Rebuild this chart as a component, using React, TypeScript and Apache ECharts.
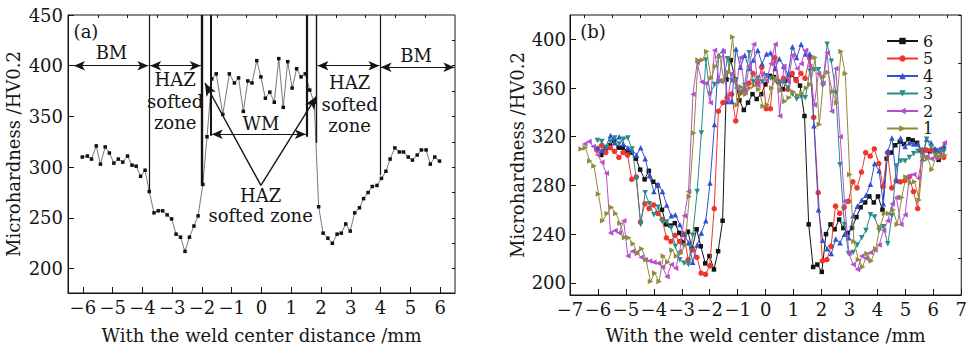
import React, { useEffect, useRef } from 'react';
import * as echarts from 'echarts';

// ---------- Panel (a) data ----------
const aPoints: [number, number][] = [
  [-6.02, 310], [-5.85, 311], [-5.71, 308], [-5.55, 321], [-5.41, 303], [-5.25, 320], [-5.11, 314],
  [-4.96, 304], [-4.81, 308], [-4.66, 305], [-4.5, 311], [-4.35, 302], [-4.21, 301], [-4.06, 291],
  [-3.91, 297], [-3.77, 276], [-3.61, 255], [-3.47, 257], [-3.32, 257], [-3.17, 253], [-3.02, 249],
  [-2.87, 234], [-2.72, 231], [-2.57, 217], [-2.42, 231], [-2.27, 242], [-2.13, 252], [-1.97, 283],
  [-1.83, 330], [-1.67, 387], [-1.52, 392], [-1.3, 352], [-1.08, 392], [-0.91, 383], [-0.77, 388],
  [-0.61, 355], [-0.46, 385], [-0.32, 383], [-0.16, 405], [-0.02, 389], [0.13, 368], [0.28, 374],
  [0.43, 364], [0.58, 407], [0.73, 359], [0.88, 404], [1.03, 378], [1.18, 397], [1.33, 389],
  [1.47, 392], [1.62, 376], [1.77, 364], [1.92, 261], [2.07, 235], [2.23, 230], [2.38, 225],
  [2.54, 234], [2.68, 235], [2.83, 244], [2.98, 237], [3.13, 255], [3.29, 260], [3.43, 269],
  [3.58, 275], [3.72, 281], [3.88, 282], [4.03, 289], [4.18, 296], [4.32, 308], [4.48, 319],
  [4.63, 315], [4.77, 315], [4.93, 310], [5.07, 307], [5.23, 312], [5.37, 317], [5.53, 317],
  [5.67, 303], [5.82, 310], [5.98, 306],
];
const aXTicks = [-6, -5, -4, -3, -2, -1, 0, 1, 2, 3, 4, 5, 6];
const aXMinor = [-5.5, -4.5, -3.5, -2.5, -1.5, -0.5, 0.5, 1.5, 2.5, 3.5, 4.5, 5.5];
const aYTicks = [200, 250, 300, 350, 400, 450];
const aYMinor = [225, 275, 325, 375, 425];
const aYRight = [200, 225, 250, 275, 300, 325, 350, 375, 400, 425];

// ---------- Panel (b) data ----------
const bNames = ['6', '5', '4', '3', '2', '1'];
const s6: [number, number][] = [
  [-6.04, 310], [-5.88, 305], [-5.73, 310], [-5.57, 313], [-5.42, 317], [-5.26, 311], [-5.11, 311],
  [-4.95, 308], [-4.8, 307], [-4.64, 302], [-4.49, 293], [-4.33, 285], [-4.18, 292], [-4.02, 283],
  [-3.87, 280], [-3.71, 260], [-3.56, 248], [-3.4, 247], [-3.25, 249], [-3.09, 241], [-2.94, 233],
  [-2.78, 242], [-2.63, 228], [-2.47, 244], [-2.32, 230], [-2.16, 216], [-2.01, 222], [-1.85, 211],
  [-1.7, 226], [-1.54, 251], [-1.4, 367], [-1.25, 383], [-1.09, 367], [-0.94, 350], [-0.78, 342],
  [-0.63, 348], [-0.47, 355], [-0.32, 351], [-0.16, 355], [-0.01, 363], [0.15, 370], [0.3, 369],
  [0.46, 365], [0.61, 359], [0.77, 366], [0.92, 371], [1.08, 367], [1.23, 362], [1.39, 337],
  [1.54, 248], [1.7, 213], [1.85, 215], [2.01, 209], [2.16, 240], [2.32, 248], [2.47, 244],
  [2.63, 252], [2.78, 245], [2.94, 241], [3.09, 245], [3.25, 254], [3.4, 262], [3.56, 266],
  [3.71, 271], [3.87, 266], [4.02, 271], [4.18, 260], [4.33, 302], [4.49, 307], [4.64, 313],
  [4.8, 316], [4.95, 314], [5.11, 318], [5.26, 317], [5.42, 315], [5.57, 309], [5.73, 309],
  [5.88, 308], [6.04, 309], [6.19, 301], [6.35, 310],
];
const s5: [number, number][] = [
  [-6.03, 309], [-5.87, 313], [-5.72, 307], [-5.56, 311], [-5.41, 308], [-5.25, 303], [-5.1, 307],
  [-4.94, 305], [-4.79, 285], [-4.63, 287], [-4.48, 250], [-4.32, 265], [-4.17, 261], [-4.01, 264],
  [-3.86, 257], [-3.7, 252], [-3.55, 237], [-3.39, 234], [-3.24, 239], [-3.08, 234], [-2.93, 240],
  [-2.77, 219], [-2.62, 227], [-2.46, 221], [-2.31, 208], [-2.15, 207], [-2.0, 214], [-1.84, 261],
  [-1.69, 341], [-1.53, 348], [-1.38, 352], [-1.22, 355], [-1.07, 333], [-0.91, 356], [-0.76, 359],
  [-0.6, 364], [-0.45, 372], [-0.29, 364], [-0.14, 377], [0.02, 343], [0.17, 343], [0.33, 385],
  [0.48, 365], [0.64, 368], [0.79, 359], [0.95, 372], [1.1, 366], [1.26, 372], [1.41, 368],
  [1.57, 385], [1.72, 336], [1.88, 274], [2.03, 218], [2.19, 219], [2.34, 230], [2.5, 263],
  [2.65, 257], [2.81, 262], [2.96, 267], [3.12, 283], [3.27, 278], [3.43, 291], [3.58, 307],
  [3.74, 304], [3.89, 310], [4.05, 298], [4.2, 279], [4.36, 307], [4.51, 278], [4.67, 284],
  [4.82, 283], [4.98, 284], [5.13, 287], [5.29, 275], [5.44, 261], [5.6, 309], [5.75, 309],
  [5.91, 309], [6.06, 309], [6.22, 308], [6.37, 303],
];
const s4: [number, number][] = [
  [-6.02, 311], [-5.86, 309], [-5.71, 312], [-5.55, 321], [-5.4, 315], [-5.24, 320], [-5.09, 314],
  [-4.93, 311], [-4.78, 309], [-4.62, 305], [-4.47, 311], [-4.31, 302], [-4.16, 288], [-4.0, 275],
  [-3.85, 281], [-3.69, 275], [-3.54, 264], [-3.38, 255], [-3.23, 256], [-3.07, 248], [-2.92, 240],
  [-2.76, 233], [-2.61, 217], [-2.45, 231], [-2.3, 241], [-2.14, 251], [-1.99, 282], [-1.83, 330],
  [-1.68, 387], [-1.52, 391], [-1.37, 349], [-1.21, 349], [-1.06, 392], [-0.9, 377], [-0.75, 387],
  [-0.59, 376], [-0.44, 383], [-0.28, 391], [-0.13, 380], [0.03, 388], [0.18, 389], [0.34, 376],
  [0.49, 384], [0.65, 378], [0.8, 371], [0.96, 394], [1.11, 385], [1.27, 396], [1.42, 388],
  [1.58, 388], [1.73, 329], [1.89, 260], [2.04, 235], [2.2, 228], [2.35, 224], [2.51, 236],
  [2.66, 233], [2.82, 240], [2.97, 237], [3.13, 255], [3.28, 263], [3.44, 268], [3.59, 272],
  [3.75, 281], [3.9, 298], [4.06, 292], [4.21, 265], [4.37, 308], [4.52, 319], [4.68, 284],
  [4.83, 319], [4.99, 312], [5.14, 315], [5.3, 314], [5.45, 314], [5.61, 302], [5.76, 318],
  [5.92, 315], [6.07, 310], [6.23, 310], [6.38, 313],
];
const s3: [number, number][] = [
  [-6.02, 317], [-5.86, 316], [-5.71, 311], [-5.55, 316], [-5.4, 319], [-5.24, 314], [-5.09, 318],
  [-4.93, 319], [-4.78, 310], [-4.62, 285], [-4.47, 248], [-4.31, 274], [-4.16, 265], [-4.0, 256],
  [-3.85, 262], [-3.69, 250], [-3.54, 250], [-3.38, 245], [-3.23, 230], [-3.07, 219], [-2.92, 216],
  [-2.76, 215], [-2.61, 239], [-2.45, 275], [-2.3, 323], [-2.14, 383], [-1.99, 355], [-1.83, 363],
  [-1.68, 365], [-1.52, 365], [-1.37, 384], [-1.21, 366], [-1.06, 366], [-0.9, 356], [-0.75, 362],
  [-0.59, 389], [-0.44, 365], [-0.28, 368], [-0.13, 365], [0.03, 370], [0.18, 368], [0.34, 366],
  [0.49, 364], [0.65, 365], [0.8, 360], [0.96, 355], [1.11, 351], [1.27, 353], [1.42, 352],
  [1.58, 374], [1.73, 375], [1.89, 375], [2.04, 362], [2.2, 396], [2.35, 382], [2.51, 356],
  [2.66, 297], [2.82, 248], [2.97, 224], [3.13, 225], [3.28, 231], [3.44, 237], [3.59, 243],
  [3.75, 256], [3.9, 254], [4.06, 243], [4.21, 246], [4.37, 232], [4.52, 255], [4.68, 296],
  [4.83, 300], [4.99, 300], [5.14, 303], [5.3, 306], [5.45, 308], [5.61, 305], [5.76, 318],
  [5.92, 312], [6.07, 305], [6.23, 308], [6.38, 308],
];
const s2: [number, number][] = [
  [-6.48, 314], [-6.32, 316], [-6.17, 312], [-6.01, 305], [-5.86, 299], [-5.7, 290], [-5.55, 241],
  [-5.39, 243], [-5.24, 241], [-5.08, 251], [-4.93, 222], [-4.77, 226], [-4.62, 225], [-4.46, 221],
  [-4.31, 219], [-4.15, 218], [-4.0, 217], [-3.84, 216], [-3.69, 213], [-3.53, 205], [-3.38, 215],
  [-3.22, 212], [-3.07, 226], [-2.91, 255], [-2.76, 275], [-2.6, 355], [-2.45, 381], [-2.29, 365],
  [-2.14, 364], [-1.98, 348], [-1.83, 391], [-1.67, 366], [-1.52, 390], [-1.36, 350], [-1.21, 372],
  [-1.05, 360], [-0.9, 385], [-0.74, 357], [-0.59, 378], [-0.43, 396], [-0.28, 362], [-0.12, 372],
  [0.03, 366], [0.19, 380], [0.34, 396], [0.5, 337], [0.65, 378], [0.81, 365], [0.96, 387],
  [1.12, 376], [1.27, 380], [1.43, 391], [1.58, 378], [1.74, 346], [1.89, 372], [2.05, 364],
  [2.2, 389], [2.36, 341], [2.51, 376], [2.67, 320], [2.82, 267], [2.98, 224], [3.13, 215],
  [3.29, 211], [3.44, 222], [3.6, 220], [3.75, 225], [3.91, 227], [4.06, 231], [4.22, 243],
  [4.37, 251], [4.53, 265], [4.68, 270], [4.84, 248], [4.99, 256], [5.15, 288], [5.3, 289],
  [5.46, 286], [5.61, 304], [5.77, 304], [5.92, 302], [6.08, 303], [6.23, 304], [6.39, 315],
];
const s1: [number, number][] = [
  [-6.6, 310], [-6.45, 311], [-6.29, 300], [-6.14, 296], [-5.98, 273], [-5.83, 251], [-5.67, 257],
  [-5.52, 262], [-5.36, 257], [-5.21, 249], [-5.05, 237], [-4.9, 237], [-4.74, 232], [-4.59, 224],
  [-4.43, 228], [-4.28, 219], [-4.12, 201], [-3.97, 208], [-3.81, 201], [-3.66, 222], [-3.5, 217],
  [-3.35, 227], [-3.19, 222], [-3.04, 224], [-2.88, 231], [-2.73, 271], [-2.57, 323], [-2.42, 383],
  [-2.26, 383], [-2.11, 390], [-1.95, 368], [-1.8, 378], [-1.64, 386], [-1.49, 366], [-1.33, 373],
  [-1.18, 402], [-1.02, 346], [-0.87, 361], [-0.71, 355], [-0.56, 360], [-0.4, 362], [-0.25, 359],
  [-0.09, 345], [0.06, 346], [0.22, 360], [0.37, 368], [0.53, 358], [0.68, 349], [0.84, 352],
  [0.99, 357], [1.15, 354], [1.3, 356], [1.46, 360], [1.61, 363], [1.77, 385], [1.92, 330],
  [2.08, 369], [2.23, 373], [2.39, 357], [2.54, 348], [2.7, 390], [2.85, 372], [3.01, 289],
  [3.16, 234], [3.32, 219], [3.47, 213], [3.63, 224], [3.78, 218], [3.94, 228], [4.09, 246],
  [4.25, 257], [4.4, 257], [4.56, 260], [4.71, 248], [4.87, 270], [5.02, 287], [5.18, 282],
  [5.33, 283], [5.49, 268], [5.64, 304], [5.8, 302], [5.95, 293], [6.11, 305], [6.26, 303],
  [6.42, 305],
];
const bData = [s6, s5, s4, s3, s2, s1];
const bColors = ['#141414', '#f2342a', '#2f52d0', '#2a8c8a', '#b64fcc', '#8e8c3a'];
const bSymbols = ['rect', 'circle', 'triangle', 'triangle', 'triangle', 'triangle'];
const bRotate = [0, 0, 0, 180, 90, -90];
const bXMinor = [-6.5, -5.5, -4.5, -3.5, -2.5, -1.5, -0.5, 0.5, 1.5, 2.5, 3.5, 4.5, 5.5, 6.5];
const bYTicks = [200, 240, 280, 320, 360, 400];
const bYMinor = [220, 260, 300, 340, 380, 420];

const FONT = 'DejaVu Serif';
const INK = '#151515';
const minus = (v: number) => (v < 0 ? '\u2212' + Math.abs(v) : String(v));

function buildOption(): echarts.EChartsCoreOption {
  const tickTxt = { fontFamily: FONT, fontSize: 18, color: INK };
  const baseAxis = {
    type: 'value' as const,
    splitLine: { show: false },
    axisLine: { show: true, onZero: false, lineStyle: { color: INK, width: 1 } },
  };
  const minorAxis = (extra: any) => ({
    type: 'value' as const,
    splitLine: { show: false },
    axisLine: { show: false, onZero: false },
    axisLabel: { show: false },
    ...extra,
  });

  const annot = (x: number, y: number, name: string, lh = 21) => ({
    coord: [x, y],
    name,
    symbol: 'circle',
    symbolSize: 1,
    itemStyle: { color: 'rgba(0,0,0,0)' },
    label: {
      show: true,
      position: 'inside',
      formatter: '{b}',
      fontFamily: FONT,
      fontSize: 18,
      lineHeight: lh,
      color: INK,
      align: 'center',
      verticalAlign: 'middle',
    },
  });

  const vline = (x: number, y1: number, y2: number, w = 1.2) => [
    { coord: [x, y1], symbol: 'none', lineStyle: { width: w, color: INK, type: 'solid' } },
    { coord: [x, y2], symbol: 'none' },
  ];
  const dArrow = (x1: number, x2: number, y: number) => [
    { coord: [x1, y], symbol: 'arrow', symbolSize: [7, 11], lineStyle: { width: 1.2, color: INK, type: 'solid' } },
    { coord: [x2, y], symbol: 'arrow', symbolSize: [7, 11] },
  ];
  const sArrow = (x1: number, y1: number, x2: number, y2: number) => [
    { coord: [x1, y1], symbol: 'none', lineStyle: { width: 1.4, color: INK, type: 'solid' } },
    { coord: [x2, y2], symbol: 'arrow', symbolSize: [8, 13] },
  ];

  const series: any[] = [
    {
      name: 'a',
      type: 'line',
      xAxisIndex: 0,
      yAxisIndex: 0,
      data: aPoints,
      symbol: 'rect',
      symbolSize: 3.5,
      itemStyle: { color: '#111' },
      lineStyle: { color: '#555', width: 0.8 },
      z: 3,
      markLine: {
        silent: true,
        symbol: ['none', 'none'],
        label: { show: false },
        lineStyle: { color: INK, width: 1.2, type: 'solid' },
        data: [
          vline(-3.77, 450, 277),
          vline(-2.0, 450, 282, 2.4),
          vline(-1.7, 450, 331, 2),
          vline(1.51, 450, 330, 2.2),
          vline(1.85, 450, 324, 1.4),
          vline(3.98, 450, 292),
          dArrow(-6.3, -3.8, 400),
          dArrow(-3.74, -2.04, 400),
          dArrow(-1.67, 1.49, 332.5),
          dArrow(1.88, 3.96, 400),
          dArrow(4.0, 6.48, 398.5),
          sArrow(-0.02, 282, -1.9, 383),
          sArrow(-0.02, 282, 1.85, 370),
        ],
      },
      markPoint: {
        silent: true,
        data: [
          annot(-5.04, 413, 'BM'),
          annot(-2.9, 365, 'HAZ\nsofted\nzone', 21.5),
          annot(-0.02, 343, 'WM'),
          annot(-0.03, 262, 'HAZ\nsofted zone', 20.5),
          annot(2.96, 362, 'HAZ\nsofted\nzone', 21.5),
          annot(5.19, 410, 'BM'),
        ],
      },
    },
  ];
  bData.forEach((d, i) => {
    series.push({
      name: bNames[i],
      type: 'line',
      xAxisIndex: 2,
      yAxisIndex: 3,
      data: d,
      symbol: bSymbols[i],
      symbolRotate: bRotate[i],
      symbolSize: i === 0 ? 4.5 : 5.5,
      itemStyle: { color: bColors[i] },
      lineStyle: { color: bColors[i], width: 1 },
      z: 3 + i,
    });
  });

  return {
    animation: false,
    textStyle: { fontFamily: FONT },
    grid: [
      { left: 68, top: 15, width: 387, height: 285, show: true, borderColor: INK, borderWidth: 1 },
      { left: 570, top: 15, width: 396, height: 287, show: true, borderColor: INK, borderWidth: 1 },
    ],
    xAxis: [
      {
        ...baseAxis,
        gridIndex: 0,
        min: -6.5,
        max: 6.5,
        axisTick: { show: true, inside: true, length: 6, customValues: aXTicks, lineStyle: { color: INK } },
        axisLabel: { ...tickTxt, margin: 5, customValues: aXTicks, formatter: minus },
        name: 'With the weld center distance /mm',
        nameLocation: 'middle',
        nameGap: 33,
        nameTextStyle: { ...tickTxt },
      },
      minorAxis({
        gridIndex: 0,
        min: -6.5,
        max: 6.5,
        axisTick: { show: true, inside: true, length: 3, customValues: aXMinor, lineStyle: { color: INK } },
      }),
      {
        ...baseAxis,
        gridIndex: 1,
        min: -7,
        max: 7,
        interval: 1,
        axisTick: { show: true, inside: true, length: 6, lineStyle: { color: INK } },
        axisLabel: { ...tickTxt, margin: 5, formatter: minus },
        name: 'With the weld center distance /mm',
        nameLocation: 'middle',
        nameGap: 31,
        nameTextStyle: { ...tickTxt },
      },
      minorAxis({
        gridIndex: 1,
        min: -7,
        max: 7,
        axisTick: { show: true, inside: true, length: 3, customValues: bXMinor, lineStyle: { color: INK } },
      }),
    ],
    yAxis: [
      {
        ...baseAxis,
        gridIndex: 0,
        min: 176,
        max: 450,
        axisTick: { show: true, inside: true, length: 6, customValues: aYTicks, lineStyle: { color: INK } },
        axisLabel: { ...tickTxt, margin: 5, customValues: aYTicks },
        name: 'Microhardness /HV0.2',
        nameLocation: 'middle',
        nameGap: 46,
        nameTextStyle: { ...tickTxt },
      },
      minorAxis({
        gridIndex: 0,
        min: 176,
        max: 450,
        axisTick: { show: true, inside: true, length: 3, customValues: aYMinor, lineStyle: { color: INK } },
      }),
      minorAxis({
        gridIndex: 0,
        min: 176,
        max: 450,
        position: 'right',
        axisTick: { show: true, inside: true, length: 3, customValues: aYRight, lineStyle: { color: INK } },
      }),
      {
        ...baseAxis,
        gridIndex: 1,
        min: 190,
        max: 420,
        axisTick: { show: true, inside: true, length: 6, customValues: bYTicks, lineStyle: { color: INK } },
        axisLabel: { ...tickTxt, margin: 4, customValues: bYTicks },
        name: 'Microhardness /HV0.2',
        nameLocation: 'middle',
        nameGap: 44,
        nameTextStyle: { ...tickTxt },
      },
      minorAxis({
        gridIndex: 1,
        min: 190,
        max: 420,
        axisTick: { show: true, inside: true, length: 3, customValues: bYMinor, lineStyle: { color: INK } },
      }),
    ],
    legend: {
      data: bNames,
      orient: 'vertical',
      left: 886,
      top: 33,
      itemWidth: 31,
      itemHeight: 8,
      itemGap: 1.5,
      padding: 0,
      selectedMode: false,
      textStyle: { fontFamily: FONT, fontSize: 16, color: INK, lineHeight: 15 },
    },
    graphic: [
      {
        type: 'text',
        x: 86,
        y: 31,
        style: { text: '(a)', fontFamily: FONT, fontSize: 18, fill: INK, textAlign: 'center', textVerticalAlign: 'middle' },
      },
      {
        type: 'text',
        x: 593,
        y: 31,
        style: { text: '(b)', fontFamily: FONT, fontSize: 18, fill: INK, textAlign: 'center', textVerticalAlign: 'middle' },
      },
    ],
    series,
  };
}

export default function App() {
  const ref = useRef<HTMLDivElement>(null);
  useEffect(() => {
    if (!ref.current) return;
    const chart = echarts.init(ref.current, null, { renderer: 'svg' });
    chart.setOption(buildOption());
    return () => chart.dispose();
  }, []);
  return (
    <div
      ref={ref}
      style={{ position: 'absolute', left: 0, top: 0, width: 970, height: 349, background: '#fff' }}
    />
  );
}
